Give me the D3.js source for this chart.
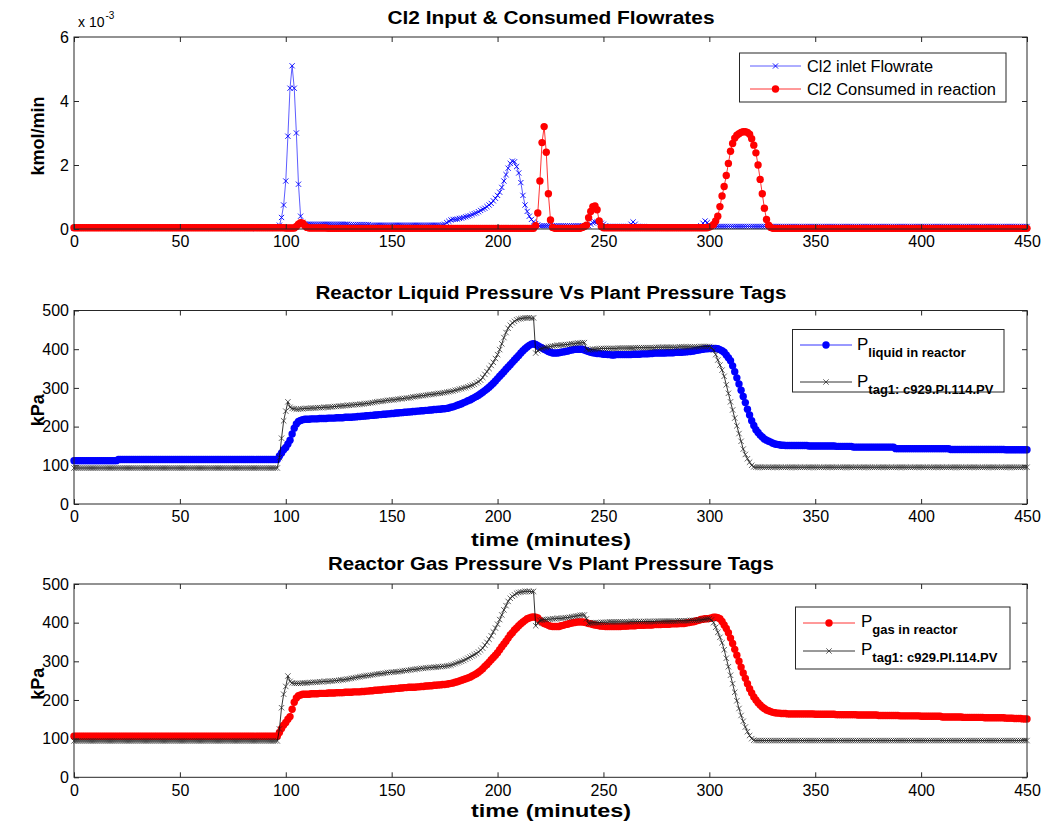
<!DOCTYPE html>
<html><head><meta charset="utf-8">
<script src="https://cdn.jsdelivr.net/npm/d3@7/dist/d3.min.js"></script>
<style>body{margin:0;background:#fff}svg{display:block}</style>
</head><body>
<svg id="c" width="1044" height="825"></svg>
<script>
// ---------- data ----------
const xTicks = [0, 50, 100, 150, 200, 250, 300, 350, 400, 450];
const flowTicks = [0, 2, 4, 6];
const pressTicks = [0, 100, 200, 300, 400, 500];
const timeMin = d3.range(0, 451, 1);   // minutes, 1-min samples (0..450)

// Cl2 inlet flowrate (x1e-3 kmol/min), t = 0..450
const cl2Inlet = [
0.02,0.02,0.02,0.02,0.02,0.02,0.02,0.02,0.02,0.02,
0.02,0.02,0.02,0.02,0.02,0.02,0.02,0.02,0.02,0.02,
0.02,0.02,0.02,0.02,0.02,0.02,0.02,0.02,0.02,0.02,
0.02,0.02,0.02,0.02,0.02,0.02,0.02,0.02,0.02,0.02,
0.02,0.02,0.02,0.02,0.02,0.02,0.02,0.02,0.02,0.02,
0.02,0.02,0.02,0.02,0.02,0.02,0.02,0.02,0.02,0.02,
0.02,0.02,0.02,0.02,0.02,0.02,0.02,0.02,0.02,0.02,
0.02,0.02,0.02,0.02,0.02,0.02,0.02,0.02,0.02,0.02,
0.02,0.02,0.02,0.02,0.02,0.02,0.02,0.02,0.02,0.02,
0.02,0.02,0.02,0.02,0.02,0.03,0.05,0.12,0.36,0.75,
1.5,2.9,4.4,5.1,4.4,3.0,1.4,0.4,0.2,0.16,
0.15,0.15,0.15,0.15,0.15,0.15,0.15,0.15,0.15,0.15,
0.15,0.15,0.15,0.15,0.15,0.15,0.15,0.15,0.15,0.15,
0.14,0.14,0.14,0.14,0.14,0.14,0.14,0.14,0.14,0.14,
0.12,0.12,0.12,0.12,0.12,0.12,0.12,0.12,0.12,0.12,
0.12,0.12,0.12,0.12,0.12,0.12,0.12,0.12,0.12,0.12,
0.12,0.12,0.12,0.12,0.12,0.12,0.12,0.12,0.12,0.12,
0.12,0.12,0.12,0.12,0.13,0.15,0.2,0.24,0.28,0.3,
0.3,0.31,0.33,0.34,0.36,0.38,0.4,0.42,0.45,0.48,
0.5,0.54,0.58,0.62,0.65,0.7,0.75,0.8,0.88,0.96,
1.05,1.15,1.3,1.5,1.7,1.9,2.05,2.12,2.1,1.95,
1.75,1.45,1.05,0.75,0.55,0.4,0.3,0.22,0.17,0.13,
0.1,0.1,0.1,0.1,0.1,0.1,0.1,0.1,0.1,0.1,
0.1,0.1,0.1,0.1,0.1,0.1,0.1,0.1,0.1,0.1,
0.1,0.1,0.1,0.1,0.15,0.2,0.22,0.22,0.2,0.18,
0.15,0.1,0.08,0.08,0.08,0.08,0.08,0.08,0.08,0.08,
0.08,0.08,0.08,0.15,0.22,0.15,0.08,0.08,0.08,0.08,
0.06,0.06,0.06,0.06,0.06,0.06,0.06,0.06,0.06,0.06,
0.06,0.06,0.06,0.06,0.06,0.06,0.06,0.06,0.06,0.06,
0.06,0.06,0.06,0.06,0.06,0.06,0.1,0.18,0.25,0.2,
0.12,0.08,0.08,0.08,0.08,0.08,0.08,0.08,0.08,0.08,
0.08,0.08,0.08,0.08,0.08,0.08,0.08,0.08,0.08,0.08,
0.08,0.08,0.08,0.08,0.08,0.08,0.08,0.08,0.08,0.08,
0.08,0.08,0.08,0.08,0.08,0.08,0.08,0.08,0.08,0.08,
0.08,0.08,0.08,0.08,0.08,0.08,0.08,0.08,0.08,0.08,
0.08,0.08,0.08,0.08,0.08,0.08,0.08,0.08,0.08,0.08,
0.08,0.08,0.08,0.08,0.08,0.08,0.08,0.08,0.08,0.08,
0.08,0.08,0.08,0.08,0.08,0.08,0.08,0.08,0.08,0.08,
0.08,0.08,0.08,0.08,0.08,0.08,0.08,0.08,0.08,0.08,
0.08,0.08,0.08,0.08,0.08,0.08,0.08,0.08,0.08,0.08,
0.08,0.08,0.08,0.08,0.08,0.08,0.08,0.08,0.08,0.08,
0.08,0.08,0.08,0.08,0.08,0.08,0.08,0.08,0.08,0.08,
0.08,0.08,0.08,0.08,0.08,0.08,0.08,0.08,0.08,0.08,
0.08,0.08,0.08,0.08,0.08,0.08,0.08,0.08,0.08,0.08,
0.08,0.08,0.08,0.08,0.08,0.08,0.08,0.08,0.08,0.08,
0.08
];

// Cl2 consumed in reaction (x1e-3 kmol/min), t = 0..450
const cl2Consumed = [
0.04,0.04,0.04,0.04,0.04,0.04,0.04,0.04,0.04,0.04,
0.04,0.04,0.04,0.04,0.04,0.04,0.04,0.04,0.04,0.04,
0.04,0.04,0.04,0.04,0.04,0.04,0.04,0.04,0.04,0.04,
0.04,0.04,0.04,0.04,0.04,0.04,0.04,0.04,0.04,0.04,
0.04,0.04,0.04,0.04,0.04,0.04,0.04,0.04,0.04,0.04,
0.04,0.04,0.04,0.04,0.04,0.04,0.04,0.04,0.04,0.04,
0.04,0.04,0.04,0.04,0.04,0.04,0.04,0.04,0.04,0.04,
0.04,0.04,0.04,0.04,0.04,0.04,0.04,0.04,0.04,0.04,
0.04,0.04,0.04,0.04,0.04,0.04,0.04,0.04,0.04,0.04,
0.04,0.04,0.04,0.04,0.04,0.04,0.04,0.04,0.04,0.04,
0.03,0.03,0.03,0.03,0.03,0.08,0.15,0.2,0.18,0.1,
0.05,0.03,0.03,0.03,0.03,0.03,0.03,0.03,0.03,0.03,
0.02,0.02,0.02,0.02,0.02,0.02,0.02,0.02,0.02,0.02,
0.02,0.02,0.02,0.02,0.02,0.02,0.02,0.02,0.02,0.02,
0.02,0.02,0.02,0.02,0.02,0.02,0.02,0.02,0.02,0.02,
0.02,0.02,0.02,0.02,0.02,0.02,0.02,0.02,0.02,0.02,
0.02,0.02,0.02,0.02,0.02,0.02,0.02,0.02,0.02,0.02,
0.02,0.02,0.02,0.02,0.02,0.02,0.02,0.02,0.02,0.02,
0.02,0.02,0.02,0.02,0.02,0.02,0.02,0.02,0.02,0.02,
0.02,0.02,0.02,0.02,0.02,0.02,0.02,0.02,0.02,0.02,
0.02,0.02,0.02,0.02,0.02,0.02,0.02,0.02,0.02,0.02,
0.02,0.02,0.02,0.02,0.02,0.02,0.02,0.02,0.1,0.5,
1.5,2.7,3.2,2.4,1.1,0.28,0.05,0.02,0.02,0.02,
0.02,0.02,0.02,0.02,0.02,0.02,0.02,0.02,0.02,0.02,
0.05,0.08,0.12,0.35,0.55,0.7,0.72,0.6,0.25,0.08,
0.04,0.04,0.04,0.04,0.04,0.04,0.04,0.04,0.04,0.04,
0.04,0.04,0.04,0.04,0.04,0.04,0.04,0.04,0.04,0.04,
0.04,0.04,0.04,0.04,0.04,0.04,0.04,0.04,0.04,0.04,
0.04,0.04,0.04,0.04,0.04,0.04,0.04,0.04,0.04,0.04,
0.04,0.04,0.04,0.04,0.04,0.04,0.04,0.04,0.04,0.04,
0.06,0.09,0.14,0.25,0.4,0.7,1.03,1.33,1.67,2.05,
2.43,2.67,2.84,2.93,2.98,3.02,3.04,3.04,3.02,2.96,
2.82,2.62,2.38,2.0,1.55,1.1,0.65,0.3,0.12,0.05,
0.02,0.02,0.02,0.02,0.02,0.02,0.02,0.02,0.02,0.02,
0.02,0.02,0.02,0.02,0.02,0.02,0.02,0.02,0.02,0.02,
0.02,0.02,0.02,0.02,0.02,0.02,0.02,0.02,0.02,0.02,
0.02,0.02,0.02,0.02,0.02,0.02,0.02,0.02,0.02,0.02,
0.02,0.02,0.02,0.02,0.02,0.02,0.02,0.02,0.02,0.02,
0.02,0.02,0.02,0.02,0.02,0.02,0.02,0.02,0.02,0.02,
0.02,0.02,0.02,0.02,0.02,0.02,0.02,0.02,0.02,0.02,
0.02,0.02,0.02,0.02,0.02,0.02,0.02,0.02,0.02,0.02,
0.02,0.02,0.02,0.02,0.02,0.02,0.02,0.02,0.02,0.02,
0.02,0.02,0.02,0.02,0.02,0.02,0.02,0.02,0.02,0.02,
0.02,0.02,0.02,0.02,0.02,0.02,0.02,0.02,0.02,0.02,
0.02,0.02,0.02,0.02,0.02,0.02,0.02,0.02,0.02,0.02,
0.02
];

// Reactor liquid pressure (kPa), t = 0..450
const pLiquid = [
112,112,112,112,112,112,112,112,112,112,
112,112,112,112,112,112,112,112,112,112,
112,115,115,115,115,115,115,115,115,115,
115,115,115,115,115,115,115,115,115,115,
115,115,115,115,115,115,115,115,115,115,
115,115,115,115,115,115,115,115,115,115,
115,115,115,115,115,115,115,115,115,115,
115,115,115,115,115,115,115,115,115,115,
115,115,115,115,115,115,115,115,115,115,
115,115,115,115,115,115,115,124,132,140,
146,155,165,181,196,207,213,216,218,219,
219,219,220,220,220,220,221,221,221,221,
222,222,222,222,223,223,223,223,224,224,
224,224,225,225,226,226,227,227,228,228,
229,229,230,230,231,231,232,232,233,233,
234,234,235,235,236,236,237,237,238,238,
239,239,240,240,241,241,242,242,243,243,
244,244,245,245,246,246,247,248,250,251,
253,255,257,259,262,264,267,269,272,275,
278,281,285,289,293,297,302,307,312,318,
324,330,336,342,348,354,360,366,372,378,
384,390,396,401,406,410,413,414,412,409,
406,403,400,397,394,392,390,390,390,391,
392,393,394,395,397,398,399,400,400,400,
400,398,396,394,392,391,390,389,389,388,
387,387,386,386,385,385,386,386,386,386,
386,386,386,386,387,387,387,387,388,388,
388,388,389,389,390,390,390,390,390,390,
391,391,391,391,392,392,392,392,393,393,
394,394,395,396,397,398,399,400,401,401,
402,402,402,402,401,399,396,392,385,378,
370,357,342,326,310,294,278,262,245,230,
215,203,192,185,178,173,168,165,162,160,
157,155,154,153,152,152,151,151,151,151,
151,151,151,151,151,151,151,150,150,150,
150,150,150,150,150,150,150,150,150,150,
149,149,149,149,149,149,149,149,147,147,
147,147,147,147,147,147,147,147,147,147,
147,147,147,147,147,147,147,147,143,143,
143,143,143,143,143,143,143,143,143,143,
143,143,143,143,143,143,143,143,143,143,
143,143,143,143,141,141,141,141,141,141,
141,141,141,141,141,141,141,141,141,141,
141,141,141,141,141,141,141,141,141,141,
140,140,140,140,140,140,140,140,140,140,
140
];

// Plant pressure tag c929.PI.114.PV (kPa) in the liquid-pressure panel, t = 0..450
const pTagLiquidPanel = [
93,93,93,93,93,93,93,93,93,93,
93,93,93,93,93,93,93,93,93,93,
93,93,93,93,93,93,93,93,93,93,
93,93,93,93,93,93,93,93,93,93,
93,93,93,93,93,93,93,93,93,93,
93,93,93,93,93,93,93,93,93,93,
93,93,93,93,93,93,93,93,93,93,
93,93,93,93,93,93,93,93,93,93,
93,93,93,93,93,93,93,93,93,93,
93,93,93,93,93,93,93,120,170,215,
240,264,250,247,246,245,245,246,246,247,
247,247,248,248,248,249,249,249,250,250,
250,251,251,252,252,253,253,254,254,255,
255,256,256,257,257,258,258,259,260,260,
261,262,263,264,265,265,266,267,268,268,
269,269,270,271,272,272,273,274,274,275,
277,277,278,279,280,280,281,282,283,283,
284,285,286,286,287,288,289,290,291,292,
294,295,297,298,300,301,303,305,307,309,
313,316,320,327,335,342,350,358,366,376,
386,399,414,430,443,454,462,468,472,476,
478,479,480,481,481,481,480,481,390,396,
400,402,404,405,406,407,408,409,410,410,
411,411,412,412,413,414,414,415,416,416,
417,417,400,398,399,400,400,401,401,402,
402,402,402,402,402,402,402,403,403,403,
403,403,403,403,403,404,404,404,404,404,
404,404,404,404,404,405,405,405,405,405,
405,405,405,405,405,405,406,406,406,406,
406,406,406,406,406,406,407,407,407,407,
407,404,398,386,372,359,346,330,308,286,
264,243,222,202,182,162,142,128,117,108,
100,96,95,95,95,95,95,95,95,95,
95,95,95,95,95,95,95,95,95,95,
95,95,95,95,95,95,95,95,95,95,
95,95,95,95,95,95,95,95,95,95,
95,95,95,95,95,95,95,95,95,95,
95,95,95,95,95,95,95,95,95,95,
95,95,95,95,95,95,95,95,95,95,
95,95,95,95,95,95,95,95,95,95,
95,95,95,95,95,95,95,95,95,95,
95,95,95,95,95,95,95,95,95,95,
95,95,95,95,95,95,95,95,95,95,
95,95,95,95,95,95,95,95,95,95,
95,95,95,95,95,95,95,95,95,95,
95
];

// Reactor gas pressure (kPa), t = 0..450
const pGas = [
106,106,106,106,106,106,106,106,106,106,
106,106,106,106,106,106,106,106,106,106,
106,106,106,106,106,106,106,106,106,106,
106,106,106,106,106,106,106,106,106,106,
106,106,106,106,106,106,106,106,106,106,
106,106,106,106,106,106,106,106,106,106,
106,106,106,106,106,106,106,106,106,106,
106,106,106,106,106,106,106,106,106,106,
106,106,106,106,106,106,106,106,106,106,
106,106,106,106,106,106,106,116,126,135,
142,150,157,176,194,205,211,213,215,215,
215,215,216,216,216,216,217,217,217,217,
218,218,218,218,219,219,219,219,220,220,
220,220,221,221,221,221,222,222,223,223,
224,224,225,225,226,226,227,227,228,228,
229,229,230,230,231,231,232,232,233,233,
233,233,234,234,235,235,236,236,237,237,
238,238,239,239,240,240,241,242,243,244,
246,247,249,251,253,255,257,259,262,265,
268,272,276,281,287,292,298,304,310,316,
322,330,338,345,352,360,368,374,381,386,
392,397,402,406,410,412,414,415,414,412,
406,402,398,396,393,391,390,390,390,390,
392,393,395,396,398,399,400,401,402,402,
402,401,400,398,397,395,394,393,392,391,
391,390,390,390,390,390,390,390,390,391,
391,391,392,392,392,392,393,393,393,393,
394,394,394,394,395,395,395,395,396,396,
396,396,397,397,397,397,398,398,398,399,
400,401,402,403,405,406,408,409,410,410,
411,412,414,414,413,410,403,394,385,374,
360,346,331,316,300,285,270,256,242,229,
218,208,200,193,187,182,178,174,172,170,
168,167,166,166,165,165,165,164,164,164,
164,164,164,164,164,164,164,164,164,164,
163,163,163,163,163,163,163,163,163,163,
162,162,162,162,162,162,162,162,162,162,
161,161,161,161,161,161,161,161,161,161,
160,160,160,160,160,160,160,160,160,160,
159,159,159,159,159,159,159,159,159,159,
158,158,158,158,158,158,158,158,158,158,
156,156,156,156,156,156,156,156,156,156,
155,155,155,155,155,155,155,155,155,155,
154,154,154,154,154,154,154,154,154,154,
153,153,153,153,152,152,152,152,151,151,
151
];

// Plant pressure tag c929.PI.114.PV (kPa) in the gas-pressure panel, t = 0..450
const pTagGasPanel = [
94,94,94,94,94,94,94,94,94,94,
94,94,94,94,94,94,94,94,94,94,
94,94,94,94,94,94,94,94,94,94,
94,94,94,94,94,94,94,94,94,94,
94,94,94,94,94,94,94,94,94,94,
94,94,94,94,94,94,94,94,94,94,
94,94,94,94,94,94,94,94,94,94,
94,94,94,94,94,94,94,94,94,94,
94,94,94,94,94,94,94,94,94,94,
94,94,94,94,94,94,94,125,180,215,
235,262,248,244,243,243,243,243,244,244,
244,245,245,246,246,246,247,247,248,248,
248,249,249,250,250,251,252,252,253,254,
255,256,257,258,259,260,261,262,263,263,
264,265,266,267,268,268,269,270,271,271,
272,272,273,273,274,275,276,276,277,278,
279,279,280,281,282,282,283,283,284,284,
285,285,286,286,287,287,288,289,290,292,
294,296,298,300,302,305,308,311,314,317,
320,324,329,334,342,349,357,366,376,386,
396,408,420,433,444,455,463,468,472,476,
478,479,480,481,481,481,480,481,392,398,
406,407,408,408,409,409,410,410,411,411,
411,412,413,413,414,415,416,417,418,419,
420,420,410,398,399,400,400,400,400,401,
401,401,401,402,402,402,402,402,402,402,
402,402,402,403,403,403,403,403,403,403,
403,403,403,403,403,404,404,404,404,404,
404,404,404,404,404,405,405,405,405,405,
405,406,406,406,406,407,407,408,409,410,
410,407,400,388,375,362,348,330,308,286,
264,242,220,198,178,160,145,130,118,108,
100,96,95,95,95,95,95,95,95,95,
95,95,95,95,95,95,95,95,95,95,
95,95,95,95,95,95,95,95,95,95,
95,95,95,95,95,95,95,95,95,95,
95,95,95,95,95,95,95,95,95,95,
95,95,95,95,95,95,95,95,95,95,
95,95,95,95,95,95,95,95,95,95,
95,95,95,95,95,95,95,95,95,95,
95,95,95,95,95,95,95,95,95,95,
95,95,95,95,95,95,95,95,95,95,
95,95,95,95,95,95,95,95,95,95,
95,95,95,95,95,95,95,95,95,95,
95,95,95,95,95,95,95,95,95,95,
95
];

// ---------- drawing ----------
const svg = d3.select('#c');
svg.append('rect').attr('width', 1044).attr('height', 825).attr('fill', '#fff');
const FONT = '"Liberation Sans", Arial, Helvetica, sans-serif';
const AX = '#262626';
const x = d3.scaleLinear().domain([0, 450]).range([74, 1027]);

function zip(times, vals) {
  const n = Math.min(times.length, vals.length);
  return d3.range(n).map(i => ({t: times[i], v: vals[i]}));
}

function drawSeries(g, y, data, opt) {
  const line = d3.line().x(d => x(d.t)).y(d => y(d.v));
  g.append('path').datum(data).attr('d', line).attr('fill', 'none')
    .attr('stroke', opt.lineColor).attr('stroke-width', opt.lineWidth);
  if (opt.marker === 'dot') {
    g.append('g').selectAll('circle').data(data).join('circle')
      .attr('cx', d => x(d.t)).attr('cy', d => y(d.v)).attr('r', opt.size)
      .attr('fill', opt.color);
  } else {
    const s = opt.size;
    g.append('g').selectAll('path').data(data).join('path')
      .attr('d', `M${-s},${-s}L${s},${s}M${-s},${s}L${s},${-s}`)
      .attr('transform', d => `translate(${x(d.t)},${y(d.v)})`)
      .attr('stroke', opt.color).attr('stroke-width', opt.markerWidth).attr('fill', 'none');
  }
}

function panel(cfg) {
  const y = d3.scaleLinear().domain(cfg.domain).range([cfg.bottom, cfg.top]);
  const g = svg.append('g');
  cfg.series.forEach(s => drawSeries(g, y, s.data, s));
  g.append('rect').attr('x', 74).attr('y', cfg.top).attr('width', 1027 - 74)
    .attr('height', cfg.bottom - cfg.top).attr('fill', 'none').attr('stroke', AX).attr('stroke-width', 1);
  const axStyle = sel => {
    sel.selectAll('.domain').remove();
    sel.selectAll('line').attr('stroke', AX);
    sel.selectAll('text').attr('font-family', FONT).attr('font-size', 16).attr('fill', '#000');
  };
  g.append('g').attr('transform', `translate(0,${cfg.bottom})`)
    .call(d3.axisBottom(x).tickValues(xTicks).tickSize(-5).tickPadding(7).tickFormat(d3.format('d')))
    .call(axStyle);
  g.append('g').attr('transform', `translate(0,${cfg.top})`)
    .call(d3.axisTop(x).tickValues(xTicks).tickSize(-5).tickFormat(''))
    .call(axStyle);
  g.append('g').attr('transform', `translate(74,0)`)
    .call(d3.axisLeft(y).tickValues(cfg.ticks).tickSize(-5).tickPadding(5).tickFormat(d3.format('d')))
    .call(axStyle);
  g.append('g').attr('transform', `translate(1027,0)`)
    .call(d3.axisRight(y).tickValues(cfg.ticks).tickSize(-5).tickFormat(''))
    .call(axStyle);
  svg.append('text').attr('x', 551).attr('y', cfg.titleY).attr('text-anchor', 'middle')
    .attr('font-family', FONT).attr('font-weight', 'bold').attr('font-size', 18)
    .attr('textLength', cfg.titleW).attr('lengthAdjust', 'spacingAndGlyphs').text(cfg.title);
  svg.append('text').attr('transform', `translate(44,${(cfg.top + cfg.bottom) / 2 + 3}) rotate(-90)`)
    .attr('text-anchor', 'middle').attr('font-family', FONT).attr('font-weight', 'bold')
    .attr('font-size', 18).text(cfg.ylabel);
  if (cfg.xlabel) {
    svg.append('text').attr('x', 551).attr('y', cfg.xlabelY).attr('text-anchor', 'middle')
      .attr('font-family', FONT).attr('font-weight', 'bold').attr('font-size', 19)
      .attr('textLength', 160).attr('lengthAdjust', 'spacingAndGlyphs').text(cfg.xlabel);
  }
  return y;
}

const blueX = {marker: 'x', color: '#0000ff', lineColor: '#3333ff', lineWidth: 0.8, size: 2.6, markerWidth: 0.9};
const redDot = {marker: 'dot', color: '#ff0000', lineColor: '#ff0000', lineWidth: 0.8, size: 3.7};
const blueDot = {marker: 'dot', color: '#0000ff', lineColor: '#0000ff', lineWidth: 0.8, size: 3.7};
const blackX = {marker: 'x', color: '#222222', lineColor: '#000', lineWidth: 0.8, size: 2.7, markerWidth: 0.7};

// Panel 1
panel({
  top: 37, bottom: 229, domain: [0, 6], ticks: flowTicks,
  title: 'Cl2 Input & Consumed Flowrates', titleY: 24, titleW: 327, ylabel: 'kmol/min',
  series: [
    Object.assign({data: zip(timeMin, cl2Inlet)}, blueX),
    Object.assign({data: zip(timeMin, cl2Consumed)}, redDot)
  ]
});
const ex = svg.append('text').attr('x', 78).attr('y', 27).attr('font-family', FONT).attr('font-size', 14);
ex.append('tspan').text('x 10');
ex.append('tspan').attr('font-size', 10).attr('dy', -8).attr('dx', 1).text('-3');

// Panel 2
panel({
  top: 310.5, bottom: 504, domain: [0, 500], ticks: pressTicks,
  title: 'Reactor Liquid Pressure Vs Plant Pressure Tags', titleY: 299, titleW: 471, ylabel: 'kPa',
  xlabel: 'time (minutes)', xlabelY: 546,
  series: [
    Object.assign({data: zip(timeMin, pLiquid)}, blueDot),
    Object.assign({data: zip(timeMin, pTagLiquidPanel)}, blackX)
  ]
});

// Panel 3
panel({
  top: 584, bottom: 777.3, domain: [0, 500], ticks: pressTicks,
  title: 'Reactor Gas Pressure Vs Plant Pressure Tags', titleY: 570, titleW: 446, ylabel: 'kPa',
  xlabel: 'time (minutes)', xlabelY: 817,
  series: [
    Object.assign({data: zip(timeMin, pGas)}, redDot),
    Object.assign({data: zip(timeMin, pTagGasPanel)}, blackX)
  ]
});

// ---------- legends ----------
function legendSample(g, x0, x1, yy, opt) {
  g.append('line').attr('x1', x0).attr('x2', x1).attr('y1', yy).attr('y2', yy)
    .attr('stroke', opt.lineColor).attr('stroke-width', opt.lineWidth);
  const cx = (x0 + x1) / 2;
  if (opt.marker === 'dot') {
    g.append('circle').attr('cx', cx).attr('cy', yy).attr('r', opt.size).attr('fill', opt.color);
  } else {
    const s = opt.size;
    g.append('path').attr('d', `M${cx - s},${yy - s}L${cx + s},${yy + s}M${cx - s},${yy + s}L${cx + s},${yy - s}`)
      .attr('stroke', opt.color).attr('stroke-width', opt.markerWidth);
  }
}
function legendBox(bx, by, bw, bh) {
  const g = svg.append('g');
  g.append('rect').attr('x', bx).attr('y', by).attr('width', bw).attr('height', bh)
    .attr('fill', '#fff').attr('stroke', AX).attr('stroke-width', 1);
  return g;
}
{
  const g = legendBox(739.5, 53, 266.5, 49);
  legendSample(g, 750, 801, 66, blueX);
  legendSample(g, 750, 801, 89, redDot);
  g.append('text').attr('x', 807).attr('y', 72).attr('font-family', FONT).attr('font-size', 16)
    .attr('textLength', 126).attr('lengthAdjust', 'spacingAndGlyphs').text('Cl2 inlet Flowrate');
  g.append('text').attr('x', 807).attr('y', 95).attr('font-family', FONT).attr('font-size', 16)
    .attr('textLength', 189).attr('lengthAdjust', 'spacingAndGlyphs').text('Cl2 Consumed in reaction');
}
function pText(g, xx, yy, sub) {
  const t = g.append('text').attr('x', xx).attr('y', yy).attr('font-family', FONT).attr('font-size', 17);
  t.append('tspan').text('P');
  t.append('tspan').attr('font-size', 13).attr('font-weight', 'bold').attr('dy', 7).text(sub);
}
{
  const g = legendBox(792.5, 329.5, 211.5, 62.5);
  legendSample(g, 800, 852, 345, blueDot);
  legendSample(g, 800, 852, 382, blackX);
  pText(g, 857, 350, 'liquid in reactor');
  pText(g, 857, 387, 'tag1: c929.PI.114.PV');
}
{
  const g = legendBox(795.5, 607, 214.5, 62);
  legendSample(g, 803, 855, 623, redDot);
  legendSample(g, 803, 855, 651, blackX);
  pText(g, 861, 627, 'gas in reactor');
  pText(g, 861, 655, 'tag1: c929.PI.114.PV');
}
</script>
</body></html>
